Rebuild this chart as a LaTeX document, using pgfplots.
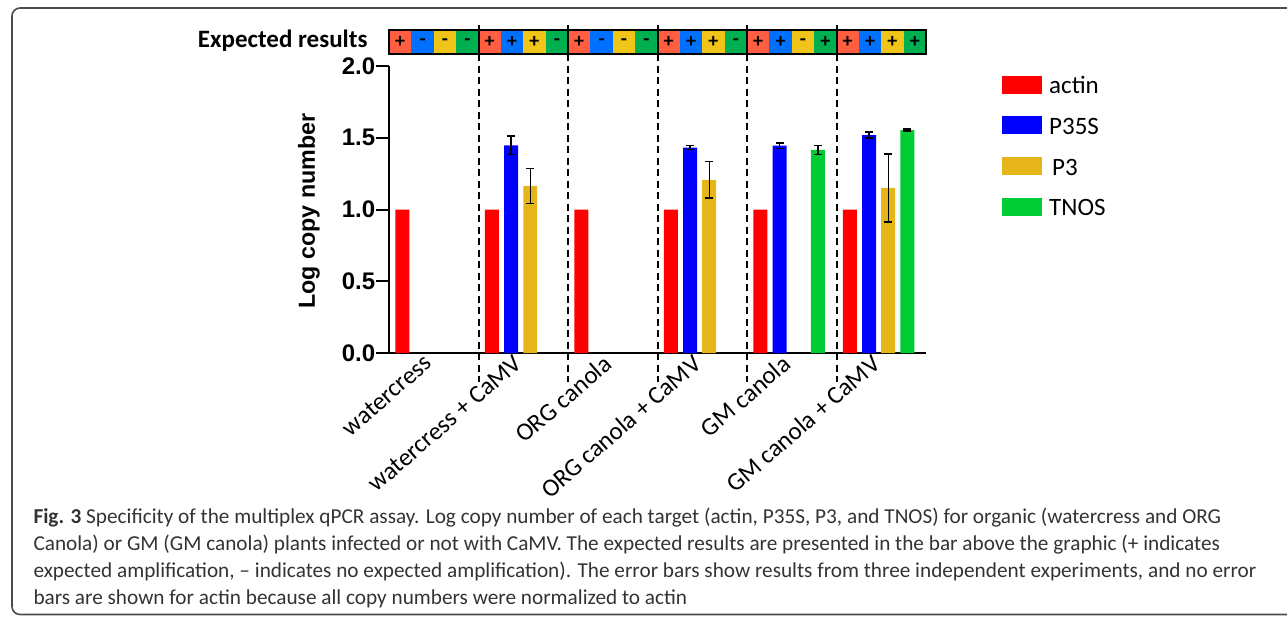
\documentclass[border=0pt]{standalone}
\usepackage{fontspec}
\setmainfont{Carlito}
\newfontfamily\arialfont{Liberation Sans}
\usepackage{pgfplots}
\pgfplotsset{compat=1.18}
\definecolor{cActin}{HTML}{FF0000}
\definecolor{cP35S}{HTML}{0000FF}
\definecolor{cP3}{HTML}{E6B51A}
\definecolor{cTNOS}{HTML}{00CC33}
\definecolor{strip0}{HTML}{FF5F40}
\definecolor{strip1}{HTML}{0070FF}
\definecolor{strip2}{HTML}{F0C419}
\definecolor{strip3}{HTML}{00B050}
\definecolor{captxt}{HTML}{333333}
\begin{document}
\begin{tikzpicture}[x=0.4pt,y=0.4pt]
\useasboundingbox (0,0) rectangle (1287,616);
\coordinate (O) at (389,263);
\draw[line width=0.65pt, black!70, rounded corners=3.2pt] (1300,608) -- (12,608) -- (12,1.5) -- (1300,1.5);
\begin{axis}[
  at={(O)}, anchor=south west,
  scale only axis, width=214.8pt, height=114.8pt,
  xmin=0, xmax=6, ymin=0, ymax=2,
  axis lines=left, axis line style={-, line width=0.8pt},
  clip=false,
  tick align=outside, major tick length=5.2pt,
  ytick={0,0.5,1,1.5,2},
  yticklabels={0.0,0.5,1.0,1.5,2.0},
  ytick style={line width=0.8pt, black},
  yticklabel style={font=\arialfont\bfseries\fontsize{9.6}{11}\selectfont, xshift=3.2pt},
  xtick={0.5,1.5,2.5,3.5,4.5,5.5},
  xticklabels={watercress, watercress + CaMV, ORG canola, ORG canola + CaMV, GM canola, GM canola + CaMV},
  xtick style={draw=none},
  xticklabel style={rotate=41, anchor=north east, font=\fontsize{10}{12}\selectfont, inner sep=1pt, xshift=1.2pt, yshift=7.8pt},
  ylabel={Log copy number},
  ylabel style={at={(axis description cs:-0.149,0.495)}, anchor=center, font=\arialfont\bfseries\fontsize{9.3}{11}\selectfont},
  legend style={at={(axis description cs:1.141,0.9686)}, anchor=north west, draw=none, fill=none, inner sep=0pt, row sep=9.1pt,
    nodes={inner sep=0pt, text height=7.2pt, text depth=0pt, font=\fontsize{10}{11}\selectfont},
    /tikz/every odd column/.append style={column sep=2.8pt}},
  legend cell align=left,
  legend image code/.code={\fill[#1] (0pt,-3.6pt) rectangle (16pt,3.6pt);},
]
\addplot[ybar, bar width=0.156, bar shift=0pt, fill=cActin, draw=none]
  coordinates {(0.15,1) (1.15,1) (2.15,1) (3.15,1) (4.15,1) (5.15,1)};
\addlegendentry{actin}
\addplot[ybar, bar width=0.156, bar shift=0pt, fill=cP35S, draw=none,
  error bars/.cd, y dir=both, y explicit, error bar style={line width=0.55pt, black},
  error mark options={black, mark size=1.6pt, line width=0.55pt, rotate=90}]
  coordinates {(1.364,1.447) +- (0,0.064) (3.364,1.431) +- (0,0.014) (4.364,1.445) +- (0,0.018) (5.364,1.519) +- (0,0.022)};
\addlegendentry{P35S}
\addplot[ybar, bar width=0.156, bar shift=0pt, fill=cP3, draw=none,
  error bars/.cd, y dir=both, y explicit, error bar style={line width=0.55pt, black},
  error mark options={black, mark size=1.6pt, line width=0.55pt, rotate=90}]
  coordinates {(1.578,1.164) +- (0,0.122) (3.578,1.206) +- (0,0.127) (5.578,1.150) +- (0,0.238)};
\addlegendentry{\hspace{1.2pt}P3}
\addplot[ybar, bar width=0.156, bar shift=0pt, fill=cTNOS, draw=none,
  error bars/.cd, y dir=both, y explicit, error bar style={line width=0.55pt, black},
  error mark options={black, mark size=1.6pt, line width=0.55pt, rotate=90}]
  coordinates {(4.793,1.415) +- (0,0.032) (5.793,1.554) +- (0,0.008)};
\addlegendentry{TNOS}
\end{axis}
% expected results strip
\foreach \s [count=\i from 0, evaluate=\i as \c using {int(mod(\i,4))}] in {+,-,-,-,+,+,+,-,+,-,-,-,+,+,+,-,+,+,-,+,+,+,+,+} {
  \pgfmathsetmacro\xa{389+22.375*\i}
  \fill[strip\c] (\xa,562) rectangle ++(22.375,24);
  \node[font=\bfseries\fontsize{8}{9}\selectfont, inner sep=0] at (\xa+11.19,574) {\s};
}
\draw[line width=0.8pt] (389,562) rectangle (926,586);
\foreach \k in {1,...,5} {
  \draw[line width=0.8pt] (389+89.5*\k,591) -- (389+89.5*\k,562);
  \draw[line width=0.8pt, dash pattern=on 2.8pt off 1.8pt] (389+89.5*\k,562) -- (389+89.5*\k,234);
}
\node[anchor=base east, font=\bfseries\fontsize{10}{12}\selectfont, inner sep=0] at (368,568.5) {Expected results};
% caption
\begin{scope}[every node/.style={anchor=base west, font=\fontsize{8.5}{10}\selectfont, text=captxt, inner sep=0}]
\node at (33,93) {\textbf{Fig. 3} Specificity of the multiplex qPCR assay. Log copy number of each target (actin, P35S, P3, and TNOS) for organic (watercress and ORG};
\node at (33,66) {Canola) or GM (GM canola) plants infected or not with CaMV. The expected results are presented in the bar above the graphic (+ indicates};
\node at (33,39) {expected amplification, – indicates no expected amplification). The error bars show results from three independent experiments, and no error};
\node at (33,12) {bars are shown for actin because all copy numbers were normalized to actin};
\end{scope}
\end{tikzpicture}
\end{document}
